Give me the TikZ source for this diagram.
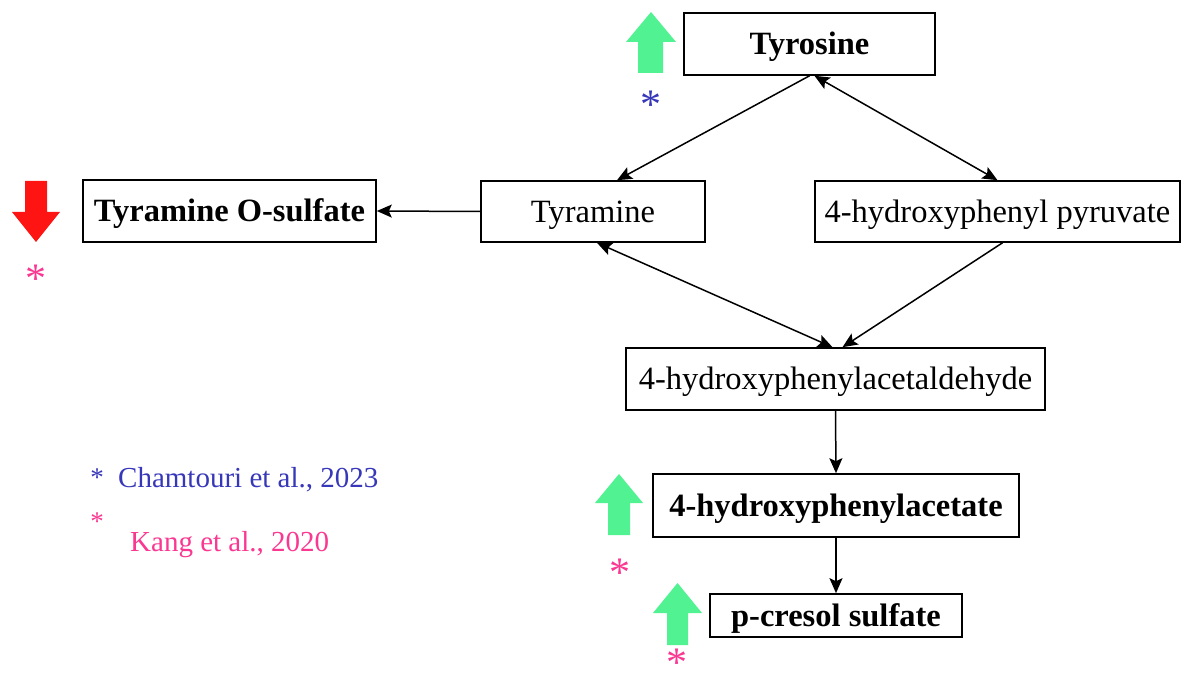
\documentclass[tikz,border=0pt]{standalone}
\usepackage{fontspec}
\setmainfont{Liberation Serif}
\usetikzlibrary{arrows.meta}
\definecolor{upgreen}{RGB}{80,242,145}
\definecolor{downred}{RGB}{255,20,20}
\definecolor{refblue}{RGB}{55,55,185}
\definecolor{refpink}{RGB}{250,55,145}
\tikzset{
  box/.style={draw, line width=1.6pt, inner sep=0pt, align=center, text height=22pt, text depth=0pt, font=\fontsize{32.5}{38}\selectfont},
  boldbox/.style={box, font=\fontsize{32.5}{38}\selectfont\bfseries},
  conn/.style={line width=1.5pt, -{Stealth[length=15pt,width=13pt,inset=3pt]}},
  dconn/.style={line width=1.5pt, {Stealth[length=15pt,width=13pt,inset=3pt]}-{Stealth[length=15pt,width=13pt,inset=3pt]}},
  star/.style={inner sep=0pt, anchor=base, font=\fontsize{42}{48}\selectfont},
  legstar/.style={inner sep=0pt, anchor=base, font=\fontsize{27}{30}\selectfont},
  legtext/.style={inner sep=0pt, anchor=base west, font=\fontsize{29}{34}\selectfont},
}
\begin{document}
\begin{tikzpicture}[x=1pt,y=-1pt]
\useasboundingbox (0,0) rectangle (1187,676);
% boxes
\node[boldbox, minimum width=251pt, minimum height=62pt] (tyr) at (809.5,44) {Tyrosine};
\node[boldbox, minimum width=293pt, minimum height=62pt] (osulf) at (229.5,211) {Tyramine O-sulfate};
\node[box, minimum width=224pt, minimum height=61pt] (tyra) at (593,211.5) {Tyramine};
\node[box, minimum width=365pt, minimum height=61pt] (hpp) at (997.5,211.5) {4-hydroxyphenyl pyruvate};
\node[box, minimum width=419pt, minimum height=62pt] (ald) at (835.5,379) {4-hydroxyphenylacetaldehyde};
\node[boldbox, minimum width=366pt, minimum height=63pt] (acet) at (836,505.5) {4-hydroxyphenylacetate};
\node[boldbox, minimum width=252pt, minimum height=43pt] (pcr) at (836,615.5) {p-cresol sulfate};
% connectors
\draw[conn] (tyr.south) -- ([xshift=24pt]tyra.north);
\draw[dconn] ([xshift=5pt]tyr.south) -- (hpp.north);
\draw[conn] (tyra.west) -- (osulf.east);
\draw[dconn] ([xshift=4pt]tyra.south) -- ([xshift=-3pt]ald.north);
\draw[conn] ([xshift=5pt]hpp.south) -- ([xshift=7pt]ald.north);
\draw[conn] (ald.south) -- (acet.north);
\draw[conn] (acet.south) -- (pcr.north);
% block arrows
\fill[upgreen] (651,12) -- (676,42) -- (663,42) -- (663,73) -- (638,73) -- (638,42) -- (626,42) -- cycle;
\fill[downred] (36,242) -- (60,212) -- (47,212) -- (47,181) -- (25,181) -- (25,212) -- (12,212) -- cycle;
\fill[upgreen] (619,474) -- (643,503) -- (630,503) -- (630,535) -- (608,535) -- (608,503) -- (595,503) -- cycle;
\fill[upgreen] (677.5,583) -- (702,613) -- (688,613) -- (688,645) -- (667,645) -- (667,613) -- (653,613) -- cycle;
% asterisks
\node[star, text=refblue] (s1) at (651,119) {*};
\node[star, text=refpink] (s2) at (36,293) {*};
\node[star, text=refpink] (s3) at (620,586) {*};
\node[star, text=refpink] (s4) at (677,676) {*};
% legend
\node[legstar, text=refblue] (l1s) at (97,486) {*};
\node[legtext, text=refblue] (l1) at (118,487) {Chamtouri et al., 2023};
\node[legstar, text=refpink] (l2s) at (97,530) {*};
\node[legtext, text=refpink] (l2) at (130,551) {Kang et al., 2020};
\end{tikzpicture}
\end{document}
